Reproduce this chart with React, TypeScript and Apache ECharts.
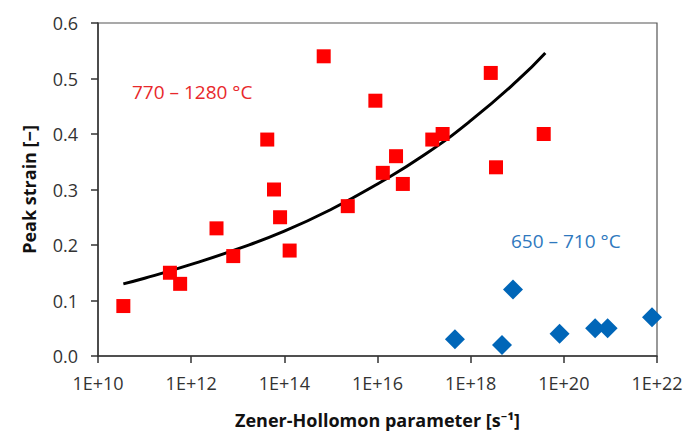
import React, { useEffect, useRef } from "react";
import * as echarts from "echarts";

// Red squares: 770–1280 °C  [Z (s^-1), peak strain]
const hotZ = [3.5e10, 3.5e11, 5.8e11, 3.5e12, 8e12, 4.3e13, 6e13, 8.1e13, 1.3e14, 7e14, 2.3e15, 9e15, 1.3e16, 2.5e16, 3.5e16, 1.5e17, 2.5e17, 2.7e18, 3.5e18, 3.7e19];
const hotStrain = [0.09, 0.15, 0.13, 0.23, 0.18, 0.39, 0.30, 0.25, 0.19, 0.54, 0.27, 0.46, 0.33, 0.36, 0.31, 0.39, 0.40, 0.51, 0.34, 0.40];

// Blue diamonds: 650–710 °C
const coldZ = [4.6e17, 4.7e18, 8.1e18, 8.1e19, 4.7e20, 8.7e20, 7.8e21];
const coldStrain = [0.03, 0.02, 0.12, 0.04, 0.05, 0.05, 0.07];

// Fitted curve
const fitZ = [3.5e10, 1e11, 1e12, 1e13, 1e14, 1e15, 1e16, 1e17, 1e18, 1e19, 4e19];
const fitStrain = [0.13, 0.14, 0.165, 0.193, 0.225, 0.264, 0.31, 0.362, 0.424, 0.496, 0.546];

const yTicks = ["0.0", "0.1", "0.2", "0.3", "0.4", "0.5", "0.6"];
const hotLabel = "770 – 1280 °C";
const coldLabel = "650 – 710 °C";

export default function App() {
  const ref = useRef<HTMLDivElement>(null);
  useEffect(() => {
    if (!ref.current) return;
    const chart = echarts.init(ref.current, undefined, { renderer: "svg" });
    const font = "'Open Sans', 'Noto Sans', sans-serif";
    chart.setOption({
      animation: false,
      backgroundColor: "#ffffff",
      grid: {
        left: 98,
        right: 29,
        top: 23,
        bottom: 77,
        show: true,
        borderColor: "#555",
        borderWidth: 1.2,
      },
      xAxis: {
        type: "log",
        logBase: 10,
        min: 1e10,
        max: 1e22,
        interval: 2,
        name: "Zener-Hollomon parameter [s⁻¹]",
        nameLocation: "middle",
        nameGap: 55,
        nameTextStyle: { fontFamily: font, fontSize: 18, fontWeight: "bold", color: "#111" },
        axisLine: { lineStyle: { color: "#333", width: 1.5 } },
        axisTick: { show: true, inside: false, length: 7, lineStyle: { color: "#333", width: 1.5 } },
        minorTick: { show: false },
        splitLine: { show: false },
        axisLabel: {
          margin: 18,
          fontFamily: font,
          fontSize: 18,
          color: "#333",
          formatter: (v: number) => "1E+" + Math.round(Math.log10(v)),
        },
      },
      yAxis: {
        type: "value",
        min: 0,
        max: 0.6,
        interval: 0.1,
        name: "Peak strain [−]",
        nameLocation: "middle",
        nameGap: 60,
        nameTextStyle: { fontFamily: font, fontSize: 18, fontWeight: "bold", color: "#111" },
        axisLine: { show: true, lineStyle: { color: "#333", width: 1.5 } },
        axisTick: { show: true, inside: false, length: 7, lineStyle: { color: "#333", width: 1.5 } },
        splitLine: { show: false },
        axisLabel: {
          margin: 20,
          fontFamily: font,
          fontSize: 18,
          color: "#333",
          formatter: (v: number) => yTicks[Math.round(v * 10)] ?? v.toFixed(1),
        },
      },
      graphic: [
        {
          type: "text",
          left: 132,
          top: 82,
          style: { text: hotLabel, fontFamily: font, fontSize: 19, fill: "#e8282b" },
        },
        {
          type: "text",
          left: 511,
          top: 231,
          style: { text: coldLabel, fontFamily: font, fontSize: 19, fill: "#2e78be" },
        },
      ],
      series: [
        {
          type: "line",
          data: fitZ.map((z, i) => [z, fitStrain[i]]),
          smooth: true,
          showSymbol: false,
          lineStyle: { color: "#000", width: 3 },
          z: 3,
        },
        {
          type: "scatter",
          data: hotZ.map((z, i) => [z, hotStrain[i]]),
          symbol: "rect",
          symbolSize: 14,
          itemStyle: { color: "#ff0000", opacity: 1 },
          z: 4,
        },
        {
          type: "scatter",
          data: coldZ.map((z, i) => [z, coldStrain[i]]),
          symbol: "diamond",
          symbolSize: [20, 20],
          itemStyle: { color: "#0066b8", opacity: 1 },
          z: 4,
        },
      ],
    });
    return () => chart.dispose();
  }, []);
  return <div ref={ref} style={{ position: "absolute", left: 0, top: 0, width: 686, height: 434 }} />;
}
